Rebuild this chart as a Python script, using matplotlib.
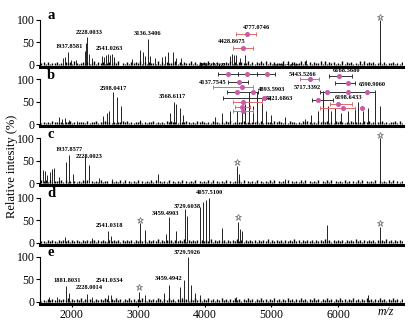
import numpy as np
import matplotlib.pyplot as plt

plt.rcParams['font.family'] = ['Liberation Serif', 'DejaVu Serif']

# ---- peaks (m/z, relative intensity %) ----
a_mz = [1860, 1900, 1937, 1990, 2060, 2190, 2210, 2228, 2260, 2300, 2450, 2480, 2510, 2540,
        2565, 2600, 2640, 2900, 3022, 3070, 3100, 3143, 3180, 3250, 3350, 3400, 3450, 3519,
        3560, 3640, 4380, 4410, 4440, 4470, 4520, 4600, 5520, 6632]
a_int = [15, 18, 29, 12, 10, 30, 49, 62, 25, 15, 20, 18, 22, 25, 22, 24, 18, 14, 33, 28, 20, 58,
         20, 15, 17, 20, 28, 29, 15, 16, 20, 25, 22, 22, 15, 23, 10, 100]

b_mz = [1800, 1850, 1900, 1950, 2080, 2466, 2526, 2556, 2617, 2677, 2737, 3030, 3480, 3530,
        3570, 3620, 3670, 4150, 4250, 4376, 4480, 4560, 4600, 4662, 4722, 4782, 4857, 4920,
        5000, 5200, 5500, 5600, 5700, 5774, 5850, 5900, 5960, 6050, 6150, 6250, 6300, 6380,
        6450, 6556, 6632]
b_int = [15, 12, 13, 10, 8, 18, 25, 30, 71, 60, 40, 10, 25, 50, 45, 35, 20, 15, 25, 30, 30, 35,
         45, 71, 40, 71, 55, 30, 20, 15, 12, 20, 30, 73, 40, 30, 35, 25, 30, 35, 49, 30, 35, 71,
         40]

c_mz = [1564, 1594, 1630, 1669, 1699, 1729, 1800, 1910, 1955, 2015, 2195, 2256, 2400, 2600,
        3300, 4480, 4510, 5200, 6632]
c_int = [30, 28, 18, 25, 33, 35, 15, 47, 63, 20, 60, 40, 12, 10, 22, 38, 20, 10, 100]

d_mz = [1900, 2300, 2541, 2580, 3022, 3100, 3414, 3459, 3560, 3700, 3729, 3925, 3970, 4015,
        4060, 4250, 4496, 4530, 4560, 5830, 6632]
d_int = [12, 10, 26, 14, 43, 28, 20, 57, 25, 75, 60, 80, 90, 95, 100, 33, 45, 30, 25, 39, 35]

e_mz = [1650, 1780, 1910, 1955, 2228, 2300, 2541, 2580, 3008, 3100, 3390, 3459, 3624, 3680,
        3744, 3790, 3850, 3925, 4470, 6450]
e_int = [12, 10, 36, 20, 18, 12, 16, 15, 22, 15, 20, 38, 33, 49, 100, 38, 20, 15, 12, 15]

# baseline noise heights (%), left to right across 1540-6960
noise_a = ("4637254635274638524736258364725636481527364658273645382736455827364"
           "5827365658472635475827366548273659482736554928376459382736459283746352"
           "8374625393847562463725463527")
noise_b = ("3526374526354736254637254836475625364758263547362547362538475623647"
           "5263748526374625374826354726354837264537485263745263748526374857263748"
           "5263746253748263547263548372")
noise_c = ("7584736558473625364758264537465253647382645372635483726453726354826"
           "3547263548372635472635483726354726354837263547263548372635472638472635"
           "4736253748263547263548372635")
noise_d = ("3425364253647253642536475263542637452635472635472635482635472635482"
           "6354726354826354726354837263547263548263547263548372635472635483726354"
           "7263548372635472635483726354")
noise_e = ("3536475364758364758364753647586374856374856374853647586374856374856"
           "3748563748563748563748563748563748563748563748563748563748563748563748"
           "5637485637485637485637485637")

# ---- peak labels ----
a_lab = ["1937.8581", "2228.0033", "2541.0263", "3136.3406", "4428.8675", "4777.0746"]
a_lab_mz = [1955, 2256, 2571, 3143, 4406, 4782]
a_lab_y = [40, 71, 36, 69, 51, 82]

b_lab = ["2598.0417", "3568.6117", "4205.2267", "4137.7545", "5078.7425", "4893.5903",
         "5021.6863", "5443.5266", "6168.5680", "6590.9060", "5717.3392", "6198.6433"]
b_lab_mz = [2617, 3504, 4106, 4121, 5219, 5008, 5113, 5474, 6121, 6512, 5535, 6166]
b_lab_y = [80, 62, 129, 93, 127, 76, 56, 111, 118, 87, 82, 60]

c_lab = ["1937.8577", "2228.0023"]
c_lab_mz = [1955, 2256]
c_lab_y = [75, 59]

d_lab = ["4057.5100", "3729.6038", "3459.4903", "2541.0318"]
d_lab_mz = [4075, 3729, 3414, 2571]
d_lab_y = [111, 80, 65, 39]

e_lab = ["3729.5926", "3459.4942", "2541.0334", "2228.0014", "1881.8031"]
e_lab_mz = [3729, 3459, 2571, 2256, 1925]
e_lab_y = [109, 53, 47, 31, 47]

# ---- horizontal error bars (low, high, level, colour) and dots ----
a_bar_lo = [4421, 4466]
a_bar_hi = [4722, 4767]
a_bar_y = [38, 69]
a_bar_c = ['r', 'r']
a_dot_mz = [4572, 4632]
a_dot_y = [38, 69]

b_bar_lo = [4196, 4497, 4782, 4346, 4121, 4331, 4271, 4421, 4451, 4421,
            5429, 5865, 5955, 5730, 5610, 5880, 5730]
b_bar_hi = [4497, 4782, 5053, 4647, 4722, 4797, 4980, 4857, 4677, 4722,
            5715, 6211, 6256, 6557, 5925, 6211, 6256]
b_bar_y = [111, 111, 111, 93, 82, 71, 58, 49, 38, 29,
           100, 107, 91, 71, 53, 44, 36]
b_bar_c = ['k', 'k', 'k', 'k', 'r', 'k', 'k', 'r', 'r', 'r',
           'r', 'k', 'k', 'k', 'k', 'r', 'r']
b_dot_mz = [4346, 4632, 4933, 4512, 4557, 4481, 4722, 4888, 4572, 4557, 4572,
            5580, 6016, 6151, 5835, 6151, 6437, 5700, 6000, 6076, 6361]
b_dot_y = [111, 111, 111, 93, 82, 71, 71, 58, 49, 38, 29,
           100, 107, 91, 71, 71, 71, 53, 44, 36, 36]

# ---- stars (m/z, level) ----
a_star = ([6632], [107])
c_star = ([4480, 6632], [48, 108])
d_star = ([3022, 4496, 6632], [50, 57, 43])
e_star = ([3008], [33])

panels = [
    ("a", a_mz, a_int, noise_a, (a_lab, a_lab_mz, a_lab_y), (a_bar_lo, a_bar_hi, a_bar_y, a_bar_c, a_dot_mz, a_dot_y), a_star),
    ("b", b_mz, b_int, noise_b, (b_lab, b_lab_mz, b_lab_y), (b_bar_lo, b_bar_hi, b_bar_y, b_bar_c, b_dot_mz, b_dot_y), None),
    ("c", c_mz, c_int, noise_c, (c_lab, c_lab_mz, c_lab_y), None, c_star),
    ("d", d_mz, d_int, noise_d, (d_lab, d_lab_mz, d_lab_y), None, d_star),
    ("e", e_mz, e_int, noise_e, (e_lab, e_lab_mz, e_lab_y), None, e_star),
]

bar_colors = {'k': '#333333', 'r': '#e06a6a'}

fig = plt.figure(figsize=(4.09, 3.24), dpi=100)
h = 59.25 / 324
left = 40 / 409
width = 362.5 / 409
bottom0 = 20.2 / 324

for i, (letter, mz, inten, noise, labs, bars, stars) in enumerate(panels):
    ax = fig.add_axes([left, bottom0 + (4 - i) * h, width, h])
    noise_h = [int(ch) for ch in noise]
    noise_x = np.linspace(1540, 6960, len(noise_h))
    ax.vlines(noise_x, 0, noise_h, color='black', lw=1.0)
    ax.vlines(mz, 0, inten, color='black', lw=0.6)

    if stars is not None:
        ax.plot(stars[0], stars[1], marker='*', ls='none', ms=5, mfc='white',
                mec='#777777', mew=0.6, clip_on=False)

    if bars is not None:
        lo, hi, yy, cc, dmz, dy = bars
        for x0, x1, y, c in zip(lo, hi, yy, cc):
            ax.errorbar([(x0 + x1) / 2], [y], xerr=[[(x1 - x0) / 2], [(x1 - x0) / 2]],
                        fmt='none', ecolor=bar_colors[c], elinewidth=0.7, capsize=1.5,
                        capthick=0.7, clip_on=False)
        ax.plot(dmz, dy, 'o', ms=2.6, color='#c85aa8', mec='#c85aa8', clip_on=False, zorder=5)

    for t, x, y in zip(*labs):
        ax.text(x, y, t, fontsize=4.6, fontweight='bold', ha='center', va='center',
                clip_on=False, zorder=6)

    ax.text(0.02, 0.86, letter, transform=ax.transAxes, fontsize=10.5, fontweight='bold',
            va='center', ha='left')

    ax.set_xlim(1520, 6970)
    ax.set_ylim(-4, 127)
    ax.set_yticks([0, 50, 100])
    ax.spines['top'].set_visible(False)
    ax.spines['right'].set_visible(False)
    ax.spines['left'].set_bounds(-4, 100)
    ax.spines['bottom'].set_linewidth(2.2)
    ax.tick_params(axis='y', direction='out', length=3, width=0.8, labelsize=8.5, pad=1)
    ax.set_xticks([2000, 3000, 4000, 5000, 6000])
    if i < 4:
        ax.tick_params(axis='x', bottom=False, labelbottom=False)
    else:
        ax.tick_params(axis='x', direction='out', length=2.5, width=0.8, labelsize=8.5, pad=1)
    ax.patch.set_alpha(0)

fig.text(12 / 409, 1 - 166 / 324, "Relative intesity (%)", rotation=90, fontsize=9,
         ha='center', va='center')
fig.text(386 / 409, 1 - 312 / 324, "m/z", fontsize=8.5, style='italic', ha='center', va='center')

fig.savefig("out.png", dpi=100)
